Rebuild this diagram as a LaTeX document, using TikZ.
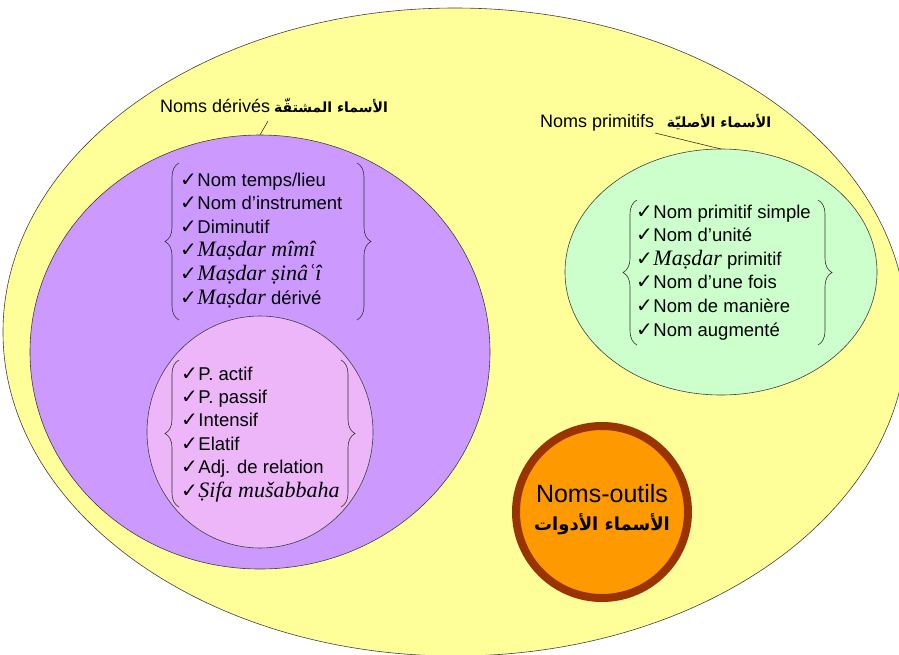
\documentclass[tikz,border=0pt]{standalone}
\usepackage{fontspec}
\setmainfont{Liberation Sans}
\newfontfamily\translit{Liberation Serif}
\newfontfamily\symfnt{DejaVu Sans}
\newfontfamily\arabicfont[Script=Arabic]{DejaVu Sans}
\TeXXeTstate=1
\usetikzlibrary{shapes.geometric,decorations.pathreplacing}

\definecolor{nomsfill}{HTML}{FFFF99}
\definecolor{derfill}{HTML}{CC99FF}
\definecolor{adjfill}{RGB}{236,182,248}
\definecolor{primfill}{HTML}{CCFFCC}
\definecolor{toolfill}{HTML}{FF9900}
\definecolor{toolring}{HTML}{993300}

% check mark in front of every list entry
\newcommand\ck{{\symfnt\fontsize{20}{20}\selectfont ✓}\hspace{0.5pt}}
% transliterated Arabic terms, set in a Roman italic
\newcommand\trl[1]{{\translit\itshape\fontsize{22}{22}\selectfont #1}}

\begin{document}
\begin{tikzpicture}[x=1pt,y=-1pt,
  zone/.style={ellipse,draw=black!75,line width=0.6pt,inner sep=0pt,outer sep=0pt},
  item/.style={anchor=base west,inner sep=0pt,font=\fontsize{18.5}{22}\selectfont},
  lbl/.style={inner sep=0pt,font=\fontsize{18}{22}\selectfont},
  arlbl/.style={inner sep=0pt,font=\arabicfont\bfseries\fontsize{14}{16}\selectfont},
  leader/.style={draw=black!80,line width=0.6pt},
  curly/.style={draw=black!80,line width=0.6pt,decorate,decoration={brace,amplitude=14pt}}]
\useasboundingbox (0,0) rectangle (899,654);
\clip (0,0) rectangle (899,654);

% nested sets of nouns
\node[zone,fill=nomsfill,minimum width=904pt,minimum height=648pt] (noms) at (455,332) {};
\node[zone,fill=derfill,minimum width=460pt,minimum height=434pt] (derives) at (260,352) {};
\node[zone,fill=adjfill,minimum width=226pt,minimum height=232pt] (adjectifs) at (260,432) {};
\node[zone,fill=primfill,minimum width=312pt,minimum height=246pt] (primitifs) at (721,272) {};
\node[circle,fill=toolfill,draw=toolring,line width=8pt,minimum size=172pt,inner sep=0pt] (outils) at (602,512) {};

% set labels
\node[lbl,anchor=base west] (derFr) at (160,112) {Noms dérivés};
\node[arlbl,anchor=base] (derAr) at (331,112) {\beginR الأسماء المشتقّة\endR};
\node[lbl,anchor=base west] (primFr) at (540,127) {Noms primitifs};
\node[arlbl,anchor=base] (primAr) at (719,127) {\beginR الأسماء الأصليّة\endR};
\coordinate (derTail) at (268,121);
\coordinate (primTail) at (655,133);
\draw[leader] (derTail) -- (derives.north);
\draw[leader] (primTail) -- (primitifs.north);

\node[lbl,anchor=base,font=\fontsize{25}{28}\selectfont] (outFr) at (602,502) {Noms-outils};
\node[arlbl,anchor=base,font=\arabicfont\bfseries\fontsize{18}{20}\selectfont] (outAr) at (602,530) {\beginR الأسماء الأدوات\endR};

% derived nouns
\foreach \t [count=\i] in {{Nom temps/lieu},{Nom d’instrument},{Diminutif},{\trl{Maṣdar mîmî}},{\trl{Maṣdar ṣinâʿî}},{\trl{Maṣdar} dérivé}}
  \node[item] (d\i) at (180,186+23.6*\i-23.6) {\ck\t};
\draw[curly] (179,320) -- (179,163);
\draw[curly] (357,163) -- (357,320);

% adjectives
\foreach \t [count=\i] in {{P. actif},{P. passif},{Intensif},{Elatif},{Adj. de relation},{\trl{Ṣifa mušabbaha}}}
  \node[item] (a\i) at (181,380+23.4*\i-23.4) {\ck\t};
\draw[curly] (179,507) -- (179,360);
\draw[curly] (341,360) -- (341,507);

% primitive nouns
\foreach \t [count=\i] in {{Nom primitif simple},{Nom d’unité},{\trl{Maṣdar} primitif},{Nom d’une fois},{Nom de manière},{Nom augmenté}}
  \node[item] (p\i) at (636,218+23.6*\i-23.6) {\ck\t};
\draw[curly] (637,345) -- (637,200);
\draw[curly] (818,200) -- (818,345);
\end{tikzpicture}
\end{document}
